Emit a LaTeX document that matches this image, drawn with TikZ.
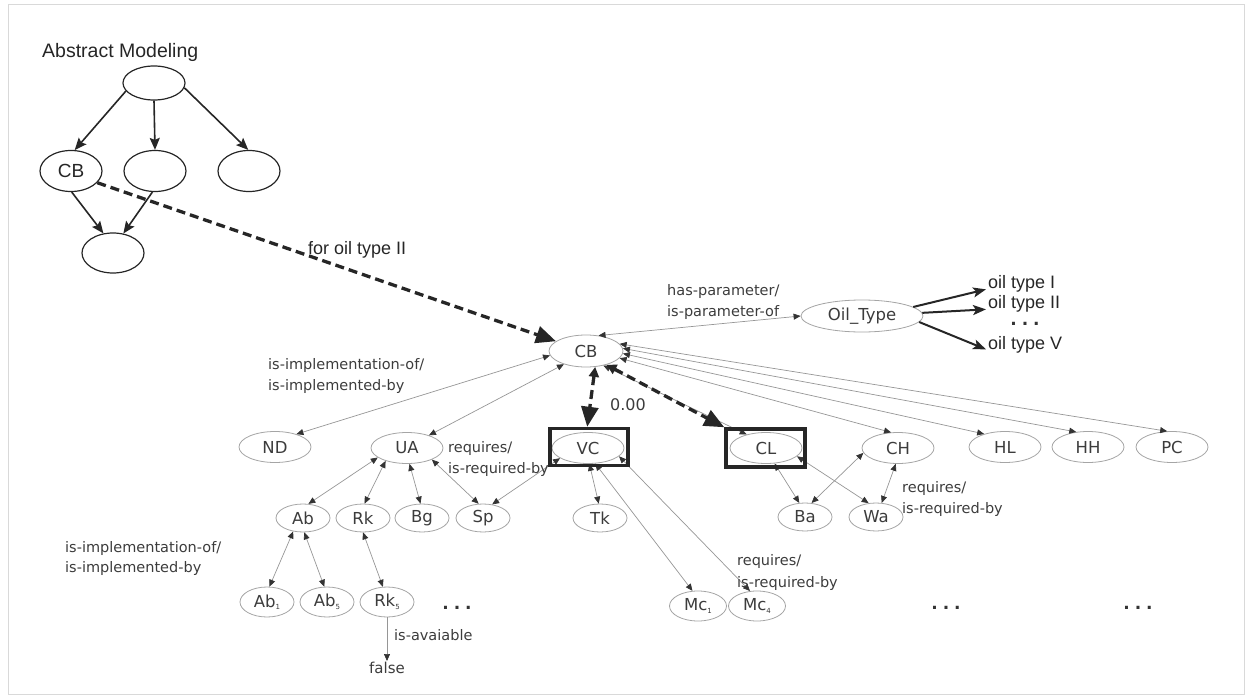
\documentclass[tikz,border=0pt]{standalone}
\usepackage{fontspec}
\setmainfont{Liberation Sans}
\newfontfamily\dvs{DejaVu Sans}
\usetikzlibrary{arrows.meta,shapes.geometric}
\definecolor{edgegray}{RGB}{150,150,150}
\definecolor{nodegray}{RGB}{165,165,165}
\definecolor{txt}{RGB}{60,60,60}
\newcommand{\sbs}[1]{\raisebox{-2.5pt}{\fontsize{7}{7}\selectfont #1}}
\tikzset{
  onode/.style={ellipse, draw=nodegray, line width=0.8pt, fill=white, inner sep=0pt,
    font=\dvs\fontsize{16.5}{18}\selectfont, text=txt},
  bignode/.style={onode, minimum width=72pt, minimum height=31pt},
  smallnode/.style={onode, minimum width=54pt, minimum height=28pt},
  anode/.style={ellipse, draw=black!85, line width=1.2pt, minimum width=62pt, minimum height=38pt,
    inner sep=0pt, font=\fontsize{19}{20}\selectfont, text=black!85},
  arr/.style={draw=black!85, line width=1.6pt, -{Stealth[length=12pt,width=10pt,inset=2pt]}},
  oarr/.style={draw=black!85, line width=2pt, -{Stealth[length=13pt,width=10pt,inset=3pt]}},
  rel/.style={draw=edgegray, line width=0.7pt,
    {Triangle[length=7pt,width=6pt,color=black!80]}-{Triangle[length=7pt,width=6pt,color=black!80]}},
  relone/.style={draw=edgegray, line width=0.7pt, -{Triangle[length=7pt,width=6pt,color=black!80]}},
  dashA/.style={draw=black!85, line width=3.3pt, dash pattern=on 9pt off 5pt,
    -{Triangle[length=20pt,width=17pt]}},
  dashB/.style={draw=black!85, line width=3.3pt, dash pattern=on 9pt off 5pt,
    {Triangle[length=10pt,width=10pt]}-{Triangle[length=20pt,width=17pt]}},
  lab/.style={font=\dvs\fontsize{14.5}{16}\selectfont, text=txt, inner sep=0pt, anchor=base west},
  alab/.style={font=\fontsize{18}{20}\selectfont, text=black!85, inner sep=0pt, anchor=base west},
  dotsn/.style={font=\dvs\bfseries\fontsize{17}{17}\selectfont, text=black!80, inner sep=0pt, anchor=base},
  boxn/.style={draw=black!85, line width=3.5pt, inner sep=0pt},
}
\begin{document}
\begin{tikzpicture}[x=1pt,y=-1pt]
\useasboundingbox (0,0) rectangle (1250,698);
\draw[gray!30, line width=1pt] (8,5) rectangle (1244,694);

% ---------- abstract modeling ----------
\node[alab, font=\fontsize{19.5}{21}\selectfont] (title) at (42,58) {Abstract Modeling};
\node[anode, minimum height=34pt] (at0) at (154,83) {};
\node[anode, minimum height=41pt] (acb) at (71,171) {CB};
\node[anode, minimum height=41pt] (am) at (155,171) {};
\node[anode, minimum height=41pt] (ar) at (249,171) {};
\node[anode, minimum height=40pt] (ab) at (113,253) {};
\draw[arr] (at0.196) -- (acb.80);
\draw[arr] (at0.south) -- (am.north);
\draw[arr] (at0.-9) -- (ar.92);
\draw[arr] (acb.-88) -- (ab.116);
\draw[arr] (am.-97) -- (ab.62);

% ---------- main graph nodes ----------
\node[bignode, minimum width=74pt, minimum height=32pt] (cb) at (586,351) {CB};
\node[bignode, minimum width=122pt, minimum height=32pt] (ot) at (862,316) {Oil\_Type};

\node[bignode] (nd) at (275,447) {ND};
\node[bignode] (ua) at (407,448) {UA};
\node[bignode] (vc) at (588,448) {VC};
\node[bignode] (cl) at (766,448) {CL};
\node[bignode] (ch) at (898,448) {CH};
\node[bignode] (hl) at (1005,447) {HL};
\node[bignode] (hh) at (1088,447) {HH};
\node[bignode] (pc) at (1172,447) {PC};

\node[smallnode] (ab2) at (303,518) {Ab};
\node[smallnode] (rk) at (363,518) {Rk};
\node[smallnode] (bg) at (422,518) {Bg};
\node[smallnode] (sp) at (483,518) {Sp};
\node[smallnode] (tk) at (600,518) {Tk};
\node[smallnode] (ba) at (805,517) {Ba};
\node[smallnode] (wa) at (876,517) {Wa};

\node[smallnode, minimum height=30pt] (ab1) at (267,602) {Ab\sbs{1}};
\node[smallnode, minimum height=30pt] (ab5) at (327,602) {Ab\sbs{5}};
\node[smallnode, minimum height=30pt] (rk5) at (387,602) {Rk\sbs{5}};
\node[smallnode, minimum width=57pt, minimum height=30pt] (mc1) at (698,606) {Mc\sbs{1}};
\node[smallnode, minimum width=57pt, minimum height=30pt] (mc4) at (757,606) {Mc\sbs{4}};
\node[font=\dvs\fontsize{15}{16}\selectfont, text=txt, inner sep=1pt] (fls) at (387,668) {false};

% ---------- oil types ----------
\node[alab] (ot1) at (988,288) {oil type I};
\node[alab] (ot2) at (988,308) {oil type II};
\node[dotsn] (otd) at (1025,325) {.\hspace{5pt}.\hspace{5pt}.};
\node[alab] (ot5) at (988,349) {oil type V};
\draw[oarr] (ot.10) -- ([xshift=-2pt,yshift=-6pt]ot1.west);
\draw[oarr] (ot.3) -- ([xshift=-2pt,yshift=-6pt]ot2.west);
\draw[oarr] (ot.-6) -- ([xshift=-2pt,yshift=-5pt]ot5.west);

% ---------- thin relations ----------
\draw[rel] (cb.51) -- (ot.180);
\draw[rel] (cb.187) -- (nd.31);
\draw[rel] (cb.211) -- (ua.30);
\draw[rel] (cb.12) -- (pc.107);
\draw[rel] (cb.4) -- (hh.128);
\draw[rel] (cb.-4) -- (hl.148);
\draw[rel] (cb.-12) -- (ch.114);
\draw[rel] (cb.-40) -- (cl.145);

\draw[rel] (ua.198) -- (ab2.69);
\draw[rel] (ua.211) -- (rk.84);
\draw[rel] (ua.-81) -- (bg.96);
\draw[rel] (ua.-25) -- (sp.107);
\draw[rel] (vc.200) -- (sp.56);
\draw[rel] (vc.-85) -- (tk.95);
\draw[rel] (vc.-65) -- (mc1.110);
\draw[rel] (vc.-15) -- (mc4.115);
\draw[rel] (cl.-61) -- (ba.112);
\draw[rel] (cl.-15) -- (wa.118);
\draw[rel] (ch.188) -- (ba.65);
\draw[rel] (ch.-98) -- (wa.68);
\draw[rel] (ab2.234) -- (ab1.81);
\draw[rel] (ab2.-85) -- (ab5.100);
\draw[rel] (rk.-90) -- (rk5.105);
\draw[relone] (rk5.south) -- (fls.north);

% ---------- highlight boxes ----------
\node[boxn, minimum width=78pt, minimum height=37pt] (vcbox) at (589,447) {};
\node[boxn, minimum width=79pt, minimum height=38pt] (clbox) at (765.5,448) {};

% ---------- dashed mappings ----------
\draw[dashA] (acb.-24) -- (cb.162);
\draw[dashB] (cb.-60) -- (vcbox.95);
\draw[dashB] (cb.-34) -- (clbox.north west);

% ---------- labels ----------
\node[alab] (l1) at (308,254) {for oil type II};
\node[lab] (l2) at (667,295) {has-parameter/};
\node[lab] (l3) at (667,316) {is-parameter-of};
\node[lab] (l4) at (268,369) {is-implementation-of/};
\node[lab] (l5) at (268,390) {is-implemented-by};
\node[lab] (l6) at (448,452) {requires/};
\node[lab] (l7) at (448,473) {is-required-by};
\node[font=\dvs\fontsize{16}{17}\selectfont, text=txt, inner sep=0pt] (l8) at (628,405) {0.00};
\node[lab] (l9) at (902,492) {requires/};
\node[lab] (l10) at (902,513) {is-required-by};
\node[lab] (l11) at (65,552) {is-implementation-of/};
\node[lab] (l12) at (65,572) {is-implemented-by};
\node[lab] (l13) at (737,565) {requires/};
\node[lab] (l14) at (737,587) {is-required-by};
\node[lab] (l15) at (394,640) {is-avaiable};

% ---------- continuation dots ----------
\node[dotsn] (d1) at (457,609) {.\hspace{5pt}.\hspace{5pt}.};
\node[dotsn] (d2) at (946,609) {.\hspace{5pt}.\hspace{5pt}.};
\node[dotsn] (d3) at (1138,609) {.\hspace{5pt}.\hspace{5pt}.};
\end{tikzpicture}
\end{document}
